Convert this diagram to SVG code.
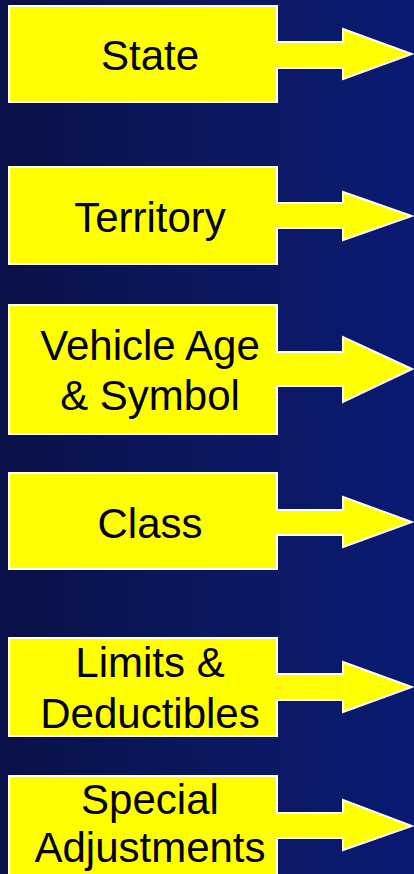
<svg xmlns="http://www.w3.org/2000/svg" width="414" height="874" viewBox="0 0 414 874">
  <defs>
    <linearGradient id="bg" x1="0" y1="0" x2="1" y2="0">
      <stop offset="0" stop-color="#0a1148"/>
      <stop offset="0.5" stop-color="#0b175e"/>
      <stop offset="1" stop-color="#0a1a72"/>
    </linearGradient>
    <style>
      .box { fill: #ffff00; stroke: #ffffff; stroke-width: 2; }
      .arrow { fill: #ffff00; stroke: #ffffff; stroke-width: 2; stroke-linejoin: miter; }
      .lbl { font-family: "Liberation Sans", Arial, sans-serif; font-size: 42px; fill: #000000; text-anchor: middle; }
    </style>
  </defs>
  <rect x="0" y="0" width="414" height="874" fill="url(#bg)"/>

  <g id="node-state">
    <rect class="box" x="9" y="6" width="268" height="96"/>
    <text class="lbl" x="150" y="70">State</text>
  </g>
  <g id="node-territory">
    <rect class="box" x="9" y="167" width="268" height="97"/>
    <text class="lbl" x="150" y="232">Territory</text>
  </g>
  <g id="node-vehicle">
    <rect class="box" x="9" y="305" width="268" height="129"/>
    <text class="lbl" x="150" y="360">Vehicle Age</text>
    <text class="lbl" x="150" y="410">&amp; Symbol</text>
  </g>
  <g id="node-class">
    <rect class="box" x="9" y="473" width="268" height="96"/>
    <text class="lbl" x="150" y="538">Class</text>
  </g>
  <g id="node-limits">
    <rect class="box" x="9" y="638" width="268" height="98"/>
    <text class="lbl" x="150" y="677">Limits &amp;</text>
    <text class="lbl" x="150" y="728">Deductibles</text>
  </g>
  <g id="node-special">
    <rect class="box" x="9" y="776" width="268" height="120"/>
    <text class="lbl" x="150" y="814">Special</text>
    <text class="lbl" x="150" y="862">Adjustments</text>
  </g>

  <g id="connectors">
    <path class="arrow" d="M276,42 H343 V29 L412,54 L343,79 V68 H276"/>
    <path class="arrow" d="M276,203 H343 V192 L412,216 L343,240 V228 H276"/>
    <path class="arrow" d="M276,352 H343 V337 L412,369 L343,402 V386 H276"/>
    <path class="arrow" d="M276,510 H343 V497 L412,522 L343,547 V535 H276"/>
    <path class="arrow" d="M276,674 H343 V662 L412,687 L343,712 V700 H276"/>
    <path class="arrow" d="M276,813 H343 V800 L412,826 L343,850 V838 H276"/>
  </g>
</svg>
